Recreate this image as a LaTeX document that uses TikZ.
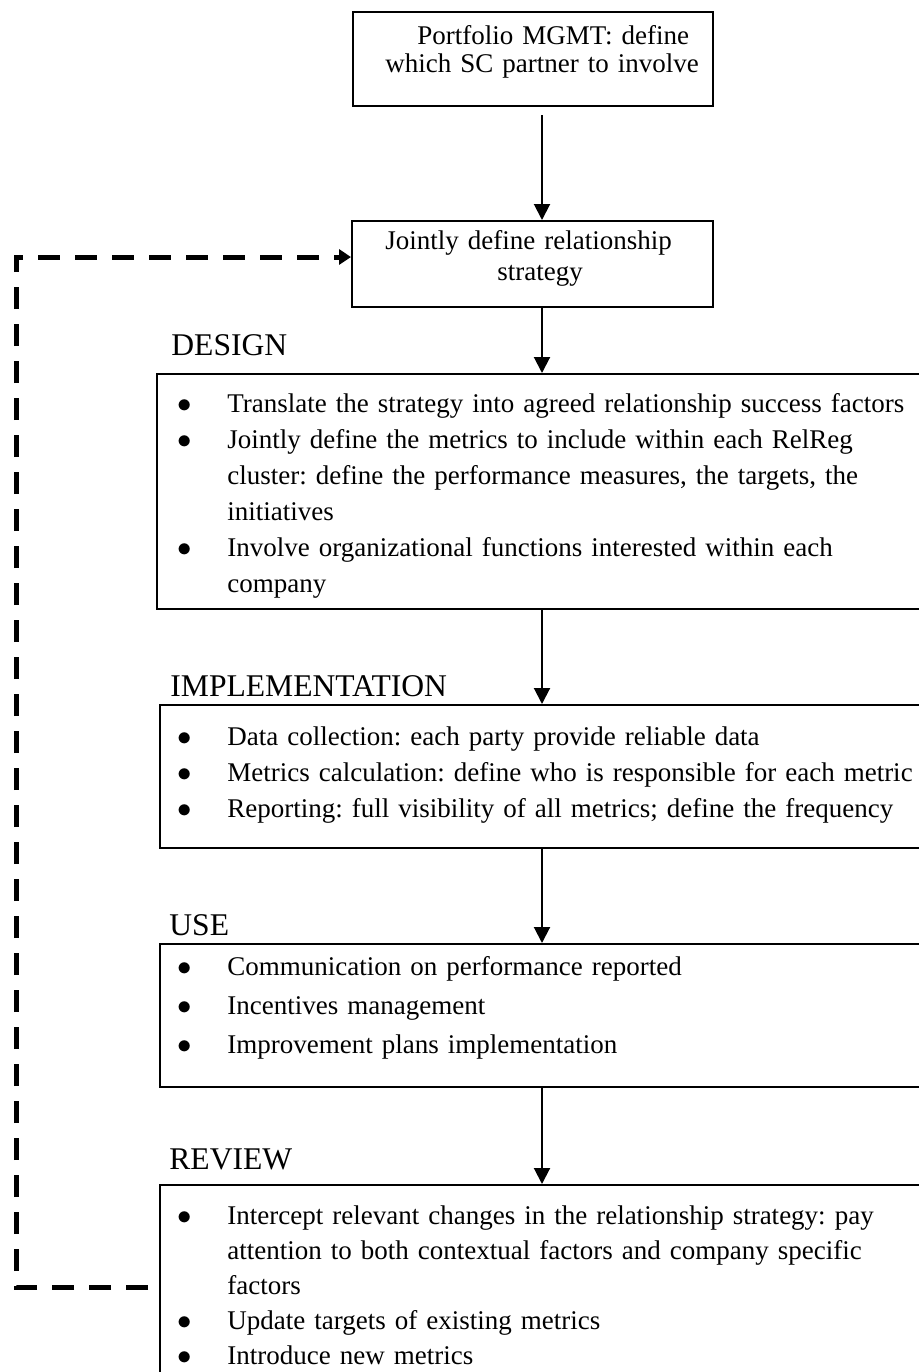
\documentclass[tikz,border=0pt]{standalone}
\usepackage{fontspec}
\setmainfont{Liberation Serif}
\usetikzlibrary{arrows.meta,positioning}

% one bullet item, wrapped lines hang under the text
\newcommand{\bitem}[1]{\hangindent=25pt\hangafter=1\noindent\makebox[25pt][l]{$\bullet$}#1\par}

\begin{document}
\frenchspacing
\begin{tikzpicture}[x=0.5pt, y=-0.5pt]
        \tikzstyle{box}=[draw, line width=1pt, rectangle, anchor=north west, inner sep=0pt];
        \tikzstyle{body}=[anchor=base west, inner sep=0pt, text width=372pt, font=\fontsize{13.5}{18}\selectfont\raggedright];
        \tikzstyle{phase}=[anchor=base west, inner sep=0pt, font=\fontsize{15.8}{18}\selectfont];
        \tikzstyle{flow}=[-{Triangle[width=8pt,length=8pt]}, line width=1pt];
        \tikzstyle{loop}=[-{Triangle[width=7.5pt,length=6pt]}, line width=2.5pt, dash pattern=on 11pt off 7.5pt];

        \useasboundingbox (0,0) rectangle (918,1372);
        \coordinate (spine) at (542,0);

        % top boxes
        \node[box, minimum width=180pt, minimum height=47pt] (portfolio) at (352,11) {};
        \node[body, text width=170pt, font=\fontsize{13.5}{14}\selectfont\raggedright] (portfoliotext) at (385,44)
            {\hspace*{16pt}Portfolio MGMT: define\\which SC partner to involve};
        \node[box, minimum width=180.5pt, minimum height=43pt] (strategy) at (351,220) {};
        \node[body, text width=170pt, font=\fontsize{13.5}{15.5}\selectfont\raggedright] (strategytext) at (385,249)
            {Jointly define relationship\\\hspace*{56pt}strategy};

        % phases
        \node[phase] (designlabel) at (171,355) {DESIGN};
        \node[box, minimum width=387pt, minimum height=117.5pt] (design) at (156,373) {};
        \node[body] (designtext) at (177,412) {%
            \bitem{Translate the strategy into agreed relationship success factors}
            \bitem{Jointly define the metrics to include within each RelReg\newline cluster: define the performance measures, the targets, the\newline initiatives}
            \bitem{Involve organizational functions interested within each\newline company}};

        \node[phase] (impllabel) at (170,696) {IMPLEMENTATION};
        \node[box, minimum width=385.5pt, minimum height=71.5pt] (impl) at (159,704) {};
        \node[body] (impltext) at (177,745) {%
            \bitem{Data collection: each party provide reliable data}
            \bitem{Metrics calculation: define who is responsible for each metric}
            \bitem{Reporting: full visibility of all metrics; define the frequency}};

        \node[phase] (uselabel) at (169,935) {USE};
        \node[box, minimum width=385.5pt, minimum height=71.5pt] (use) at (159,943) {};
        \node[body, font=\fontsize{13.5}{19.5}\selectfont\raggedright] (usetext) at (177,975) {%
            \bitem{Communication on performance reported}
            \bitem{Incentives management}
            \bitem{Improvement plans implementation}};

        \node[phase] (reviewlabel) at (169,1169) {REVIEW};
        \node[box, minimum width=385.5pt, minimum height=108pt] (review) at (159,1184) {};
        \node[body, font=\fontsize{13.5}{17.5}\selectfont\raggedright] (reviewtext) at (177,1224) {%
            \bitem{Intercept relevant changes in the relationship strategy: pay\newline attention to both contextual factors and company specific\newline factors}
            \bitem{Update targets of existing metrics}
            \bitem{Introduce new metrics}};

        % main flow
        \draw[flow, shorten <=4pt] (portfolio.south -| spine) -- (strategy.north -| spine);
        \draw[flow] (strategy.south -| spine) -- (design.north -| spine);
        \draw[flow] (design.south -| spine) -- (impl.north -| spine);
        \draw[flow] (impl.south -| spine) -- (use.north -| spine);
        \draw[flow] (use.south -| spine) -- (review.north -| spine);

        % feedback from review back to the strategy
        \coordinate (feedback) at (148,1287);
        \coordinate (rail) at (16,257);
        \draw[loop] (feedback) -- (feedback -| rail) -- (rail) -- (strategy.west |- rail);
    \end{tikzpicture}
\end{document}
